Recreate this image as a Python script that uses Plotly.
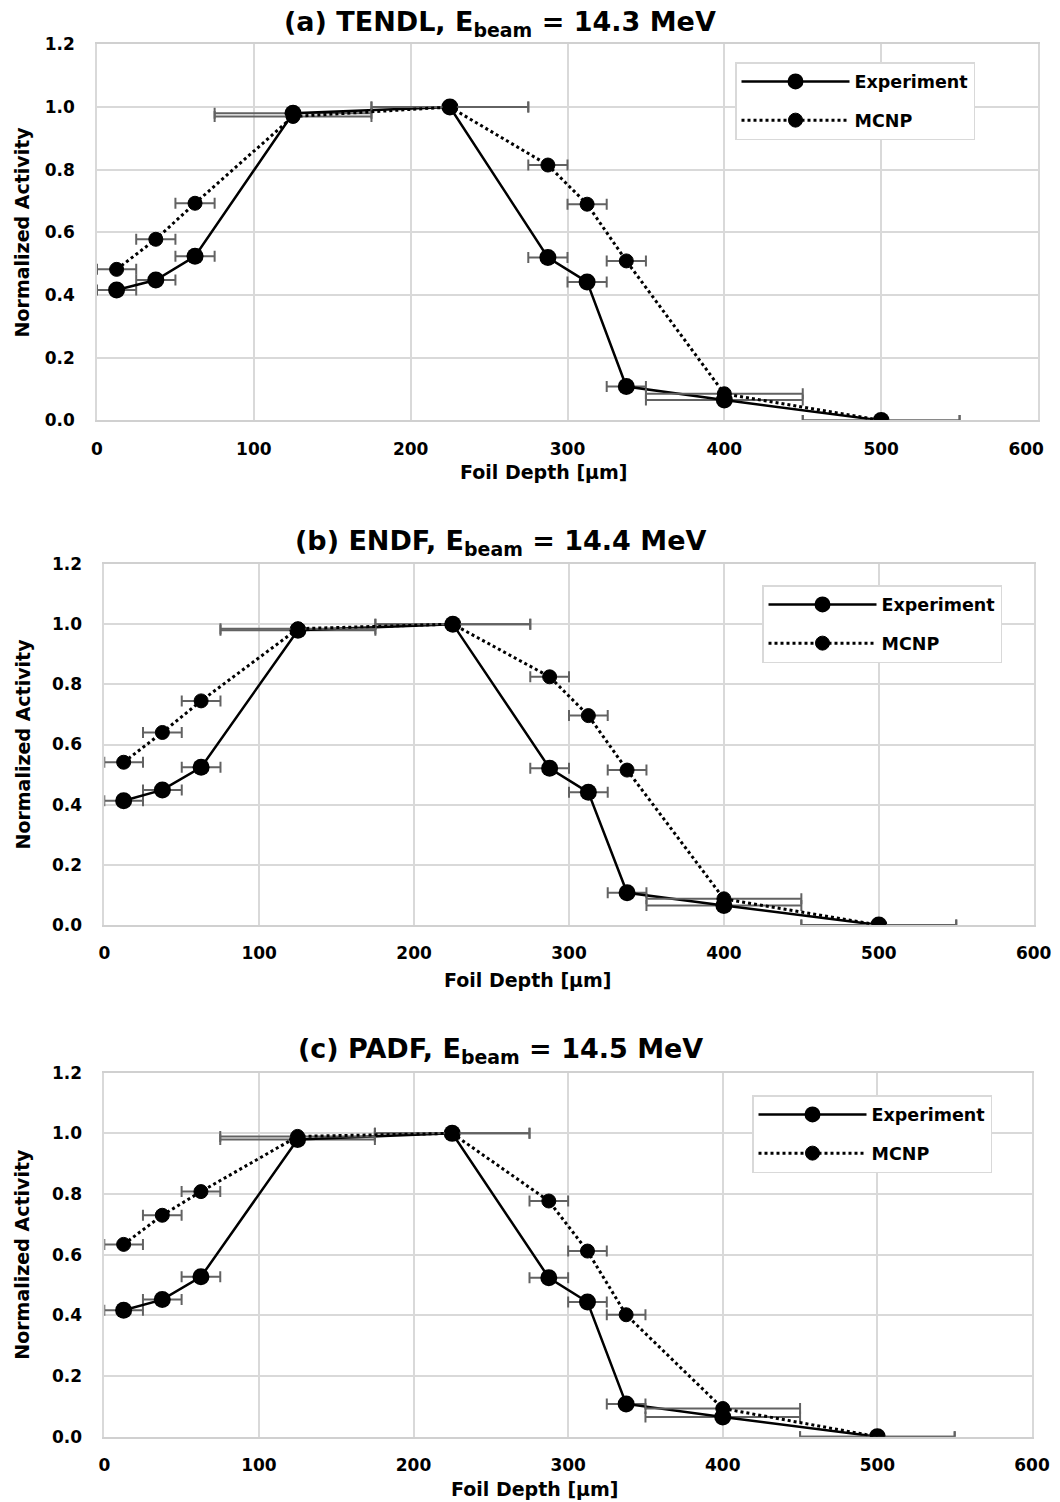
import plotly.graph_objects as go

# ---------------- data ----------------
depth = [12.5, 37.5, 62.5, 125, 225, 287.5, 312.5, 337.5, 400, 500]
depth_err = [12.5, 12.5, 12.5, 50, 50, 12.5, 12.5, 12.5, 50, 50]

exp_a = [0.416, 0.448, 0.524, 0.980, 1.000, 0.520, 0.442, 0.108, 0.065, 0.0]
mcnp_a = [0.482, 0.578, 0.693, 0.970, 1.000, 0.815, 0.690, 0.509, 0.085, 0.0]

exp_b = [0.413, 0.449, 0.524, 0.980, 1.000, 0.521, 0.441, 0.107, 0.065, 0.0]
mcnp_b = [0.541, 0.640, 0.745, 0.985, 1.000, 0.825, 0.696, 0.515, 0.087, 0.0]

exp_c = [0.417, 0.452, 0.527, 0.980, 1.000, 0.524, 0.444, 0.108, 0.065, 0.0]
mcnp_c = [0.634, 0.730, 0.808, 0.990, 1.000, 0.777, 0.612, 0.402, 0.093, 0.0]

titles = ["(a) TENDL, E<sub>beam</sub> = 14.3 MeV",
          "(b) ENDF, E<sub>beam</sub> = 14.4 MeV",
          "(c) PADF, E<sub>beam</sub> = 14.5 MeV"]
x_ticks = [0, 100, 200, 300, 400, 500, 600]
x_tick_text = ["0", "100", "200", "300", "400", "500", "600"]
# first panel: last label nudged inward (as in the source chart) with figure spaces
x_tick_text_a = ["0", "100", "200", "300", "400", "500", "600\u2007\u2007"]
y_ticks = [0.0, 0.2, 0.4, 0.6, 0.8, 1.0, 1.2]
y_tick_text = ["0.0", "0.2", "0.4", "0.6", "0.8", "1.0", "1.2"]
x_title = "Foil Depth [µm]"
y_title = "Normalized Activity"

# ---------------- layout geometry (pixels of the final picture) ----------------
W, H = 1060, 1502
OFF = 8  # page body margin shifts the figure by this many pixels
FONT = "DejaVu Sans"


def px(x):
    return (x - OFF) / W


def py(y):
    return 1 - (y - OFF) / H


panels = [
    dict(x0=97, x1=1038, yt=44.4, yb=420.4, ty=24, xt_y=472, legx=735, legy=62),
    dict(x0=104.3, x1=1033.7, yt=564, yb=925, ty=542, xt_y=980, legx=762, legy=585),
    dict(x0=104.3, x1=1032, yt=1072.7, yb=1436.7, ty=1050, xt_y=1489, legx=752, legy=1095),
]
series = [(exp_a, mcnp_a), (exp_b, mcnp_b), (exp_c, mcnp_c)]
xt_x = [544, 528, 535]
x_texts = [x_tick_text_a, x_tick_text, x_tick_text]

fig = go.Figure()
err_color = "#626262"
annotations = []
layout = {}

for i, (p, (ex, mc)) in enumerate(zip(panels, series)):
    n = "" if i == 0 else str(i + 1)
    xa, ya = "x" + n, "y" + n
    leg = "legend" + n
    fig.add_trace(go.Scatter(
        x=depth, y=ex, name="Experiment", mode="lines+markers",
        xaxis=xa, yaxis=ya, legend=leg, legendgroup="e" + n,
        line=dict(color="black", width=2.5),
        marker=dict(symbol="circle", size=17, color="black"),
        error_x=dict(type="data", array=depth_err, visible=True,
                     color=err_color, thickness=2, width=5.5),
    ))
    fig.add_trace(go.Scatter(
        x=depth, y=mc, name="MCNP", mode="lines+markers",
        xaxis=xa, yaxis=ya, legend=leg, legendgroup="m" + n,
        line=dict(color="black", width=3, dash="dot"),
        marker=dict(symbol="circle", size=14, color="black",
                    line=dict(color="black", width=1)),
        error_x=dict(type="data", array=depth_err, visible=True,
                     color=err_color, thickness=2, width=5.5),
    ))
    layout["xaxis" + n] = dict(
        domain=[px(p["x0"]), px(p["x1"])], anchor=ya, range=[0, 600],
        tickvals=x_ticks, ticktext=x_texts[i],
        showgrid=True, gridcolor="#d9d9d9", gridwidth=1.5,
        showline=True, mirror=True, linecolor="#d0d0d0", linewidth=1.5,
        zeroline=False, ticks="", ticklabelstandoff=12, automargin=False,
        tickfont=dict(family=FONT, size=17, color="black", weight="bold"),
    )
    layout["yaxis" + n] = dict(
        domain=[py(p["yb"]), py(p["yt"])], anchor=xa, range=[0, 1.2],
        tickvals=y_ticks, ticktext=y_tick_text,
        showgrid=True, gridcolor="#d9d9d9", gridwidth=1.5,
        showline=True, mirror=True, linecolor="#d9d9d9", linewidth=1.5,
        zeroline=False, ticks="", ticklabelstandoff=17, automargin=False,
        tickfont=dict(family=FONT, size=17, color="black", weight="bold"),
    )
    layout[leg] = dict(
        x=px(p["legx"]), y=py(p["legy"]), xanchor="left", yanchor="top",
        xref="paper", yref="paper",
        bgcolor="white", bordercolor="#d9d9d9", borderwidth=1.5,
        font=dict(family=FONT, size=17.5, color="black", weight="bold"),
        tracegroupgap=13, traceorder="grouped", itemwidth=108,
    )
    annotations.append(dict(
        text=titles[i], x=px(500), y=py(p["ty"]), xref="paper", yref="paper",
        showarrow=False, xanchor="center", yanchor="middle",
        font=dict(family=FONT, size=27, color="black", weight="bold"),
    ))
    annotations.append(dict(
        text=x_title, x=px(xt_x[i]), y=py(p["xt_y"]), xref="paper", yref="paper",
        showarrow=False, xanchor="center", yanchor="middle",
        font=dict(family=FONT, size=19, color="black", weight="bold"),
    ))
    annotations.append(dict(
        text=y_title, x=px(22), y=py((p["yt"] + p["yb"]) / 2),
        xref="paper", yref="paper", textangle=-90,
        showarrow=False, xanchor="center", yanchor="middle",
        font=dict(family=FONT, size=19, color="black", weight="bold"),
    ))

fig.update_layout(
    template="none",
    width=W, height=H, margin=dict(l=0, r=0, t=0, b=0, autoexpand=False),
    paper_bgcolor="white", plot_bgcolor="white",
    annotations=annotations, **layout,
)
fig.write_html("out.html")
